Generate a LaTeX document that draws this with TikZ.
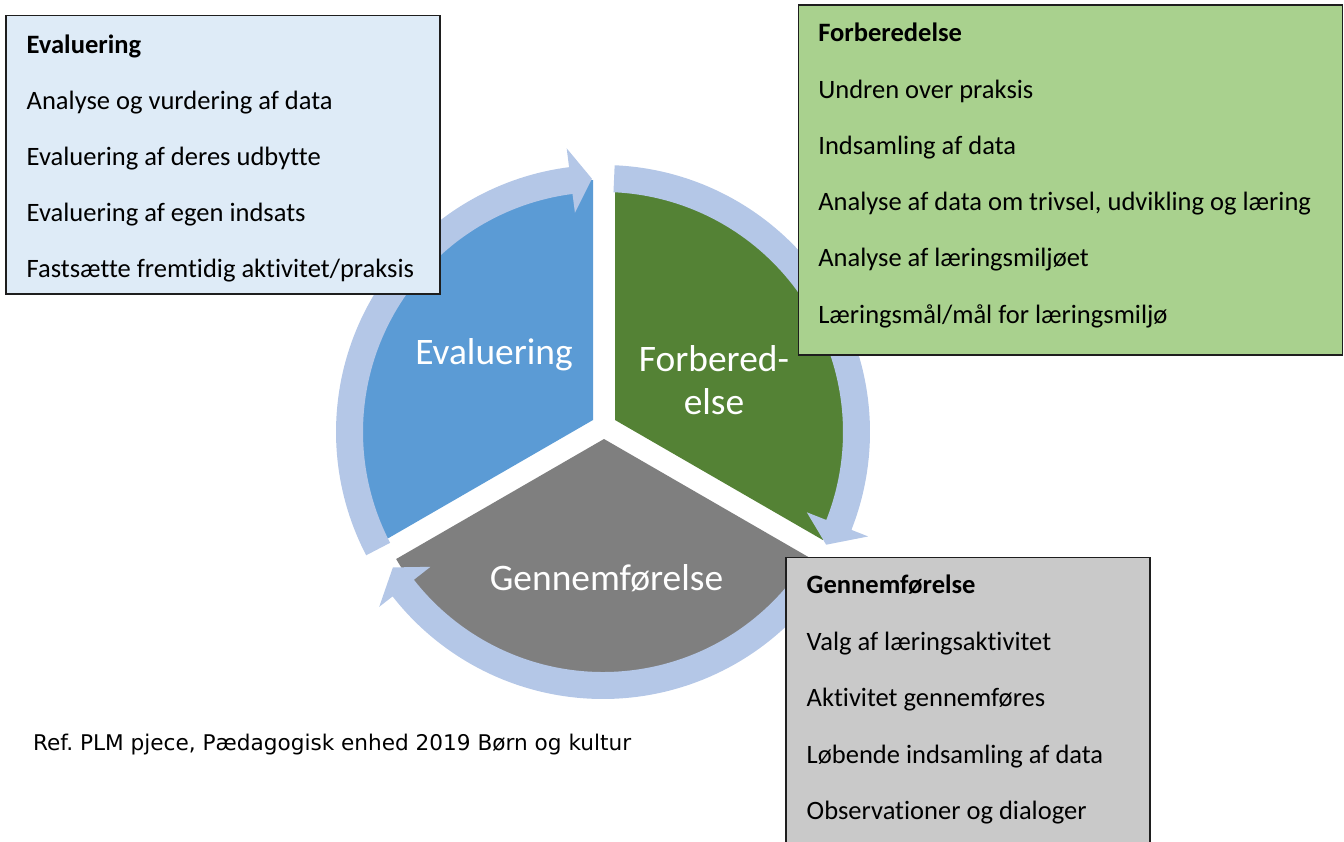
\documentclass[tikz,border=0pt]{standalone}
\usepackage{fontspec}
\setmainfont{Carlito}[Ligatures=NoCommon]
\newfontfamily\reffont{DejaVu Sans}
\frenchspacing

\definecolor{evalblue}{HTML}{5B9BD5}
\definecolor{forbgreen}{HTML}{548235}
\definecolor{genngray}{HTML}{7F7F7F}
\definecolor{ringblue}{HTML}{B4C7E7}
\definecolor{evalbg}{HTML}{DEEBF7}
\definecolor{forbbg}{HTML}{A9D18E}
\definecolor{gennbg}{HTML}{C9C9C9}
\definecolor{boxline}{HTML}{1E1E1E}

\begin{document}
\begin{tikzpicture}[x=0.02cm, y=0.02cm]
\tikzset{ inner sep=0pt, outer sep=0pt,
  boxtext/.style={anchor=base west, font=\fontsize{15.1}{18}\selectfont},
  boxhead/.style={anchor=base west, font=\fontsize{15.1}{18}\selectfont\bfseries},
  seclabel/.style={anchor=base, text=white, font=\fontsize{21.3}{24}\selectfont},
  infobox/.style={draw=boxline, line width=0.9pt},
}
\useasboundingbox (0,0) rectangle (1344,-841);
%\draw [lightgray, dashed](0,0) grid [step=50] (1344,-841);

% sectors
\fill [evalblue]  (593,-420) -- ++(90:240)  arc (90:210:240)  -- cycle;
\fill [forbgreen] (615,-420) -- ++(90:240)  arc (90:-30:240)  -- cycle;
\fill [genngray]  (604,-439) -- ++(210:240) arc (210:330:240) -- cycle;

% ring arrows
\begin{scope}[shift={(603,-432)}]
\fill [ringblue] (207.5:267) arc (207.5:97.3:267) -- (97.3:286) -- (92.5:253.5)
      -- (97.3:221) -- (97.3:240) arc (97.3:207.5:240) -- cycle;
\fill [ringblue] (87.5:267) arc (87.5:-21.5:267) -- (-21.5:285) -- (-26.8:250)
      -- (-21.5:219) -- (-21.5:240) arc (-21.5:87.5:240) -- cycle;
\fill [ringblue] (-32.5:267) arc (-32.5:-142:267) -- (-142:284) -- (-147.2:250)
      -- (-142:219) -- (-142:240) arc (-142:-32.5:240) -- cycle;
\end{scope}

\node [seclabel] (EV) at (494,-364)   {Evaluering};
\node [seclabel] (FO) at (714,-371)   {Forbered-};
\node [seclabel] (FE) at (714,-414)   {else};
\node [seclabel] (GE) at (606.5,-590) {Gennemførelse};

% boxes
\filldraw [infobox, fill=evalbg] (6,-15.7)     rectangle (440,-294);
\filldraw [infobox, fill=forbbg] (798.5,-5)    rectangle (1342.5,-355);
\filldraw [infobox, fill=gennbg] (786,-557.3)  rectangle (1150,-850);

\node [boxhead] (E0) at (26.7,-53.3)  {Evaluering};
\node [boxtext] (E1) at (26.7,-109.5) {Analyse og vurdering af data};
\node [boxtext] (E2) at (26.7,-165.5) {Evaluering af deres udbytte};
\node [boxtext] (E3) at (26.7,-221.7) {Evaluering af egen indsats};
\node [boxtext] (E4) at (26.7,-277.7) {Fastsætte fremtidig aktivitet/praksis};

\node [boxhead] (F0) at (818.3,-41.7)  {Forberedelse};
\node [boxtext] (F1) at (818.3,-98.3)  {Undren over praksis};
\node [boxtext] (F2) at (818.3,-154.5) {Indsamling af data};
\node [boxtext] (F3) at (818.3,-210.7) {Analyse af data om trivsel, udvikling og læring};
\node [boxtext] (F4) at (818.3,-266.7) {Analyse af læringsmiljøet};
\node [boxtext] (F5) at (818.3,-323.3) {Læringsmål/mål for læringsmiljø};

\node [boxhead] (G0) at (806.7,-593.3) {Gennemførelse};
\node [boxtext] (G1) at (806.7,-650)   {Valg af læringsaktivitet};
\node [boxtext] (G2) at (806.7,-706.7) {Aktivitet gennemføres};
\node [boxtext] (G3) at (806.7,-763.3) {Løbende indsamling af data};
\node [boxtext] (G4) at (806.7,-819.3) {Observationer og dialoger};

\node [anchor=base west, font=\reffont\fontsize{12.3}{14}\selectfont] (REF) at (33,-750)
      {Ref. PLM pjece, Pædagogisk enhed 2019 Børn og kultur};

\end{tikzpicture}
\end{document}
